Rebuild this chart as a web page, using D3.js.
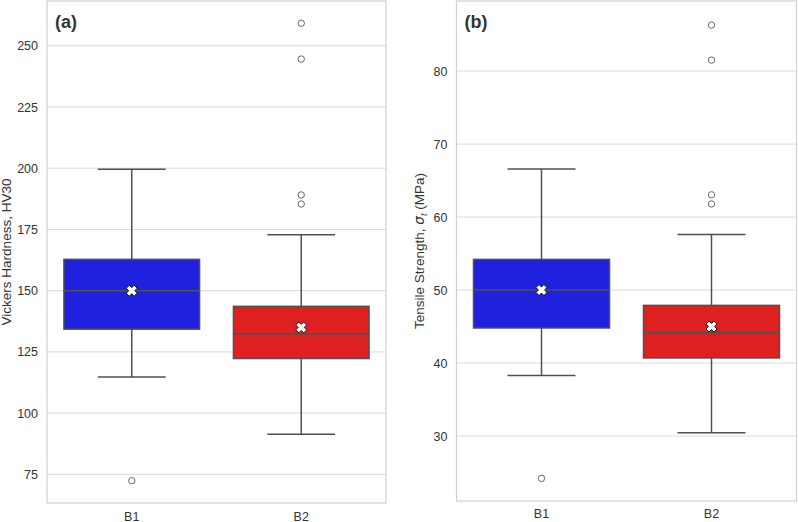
<!DOCTYPE html>
<html>
<head>
<meta charset="utf-8">
<script src="https://cdn.jsdelivr.net/npm/d3@7"></script>
<style>
  body { margin: 0; background: #fff; }
  text { font-family: "Liberation Sans", Arial, sans-serif; fill: #333; }
</style>
</head>
<body>
<div id="chart"></div>
<script>
// categories and colours
const groups = ['B1', 'B2'];
const boxColors = ['#2020df', '#df2020'];

// (a) Vickers hardness - box stats
const hvLowWhisker = [114.8, 91.4];
const hvQ1 = [134.3, 122.3];
const hvMedian = [150.0, 132.3];
const hvQ3 = [162.8, 143.6];
const hvHighWhisker = [199.6, 172.8];
const hvMean = [150.0, 135.0];
const hvOutliers = [[72.4], [259.2, 244.6, 189.1, 185.4]];
const hvTicks = [75, 100, 125, 150, 175, 200, 225, 250];

// (b) tensile strength
const tsLowWhisker = [38.3, 30.45];
const tsQ1 = [44.8, 40.7];
const tsMedian = [50.0, 44.15];
const tsQ3 = [54.2, 47.9];
const tsHighWhisker = [66.6, 57.6];
const tsMean = [50.0, 45.0];
const tsOutliers = [[24.2], [86.3, 81.5, 63.05, 61.8]];
const tsTicks = [30, 40, 50, 60, 70, 80];

const W = 798, H = 522;

const svg = d3
  .select('#chart')
  .append('svg')
  .attr('width', W)
  .attr('height', H);

// filled "X" marker like matplotlib's 'X'
const xMarker = (s) => {
  const a = s / 2, b = s / 3.6;
  const pts = [
    [-a, -a + b], [-a + b, -a], [0, -b], [a - b, -a], [a, -a + b], [b, 0],
    [a, a - b], [a - b, a], [0, b], [-a + b, a], [-a, a - b], [-b, 0],
  ];
  return 'M' + pts.map((p) => p.join(',')).join('L') + 'Z';
};

const drawPanel = (cfg) => {
  const g = svg.append('g');
  const x = d3.scaleBand().domain(groups).range([cfg.left, cfg.right]);
  const y = d3.scaleLinear().domain(cfg.domain).range([cfg.bottom, cfg.top]);
  const bw = x.bandwidth() * 0.8;

  // grid
  g.append('g')
    .selectAll('line')
    .data(cfg.ticks)
    .join('line')
    .attr('x1', cfg.left)
    .attr('x2', cfg.right)
    .attr('y1', (d) => y(d))
    .attr('y2', (d) => y(d))
    .attr('stroke', '#dadada')
    .attr('stroke-width', 1);

  // y axis labels
  const yAxis = d3.axisLeft(y).tickValues(cfg.ticks).tickSize(0).tickPadding(9);
  g.append('g')
    .attr('transform', `translate(${cfg.left},0)`)
    .call(yAxis)
    .call((a) => a.select('.domain').remove())
    .selectAll('text')
    .attr('font-size', 12.5)
    .attr('fill', '#333');

  // x axis labels (baseline placed directly)
  const xAxis = d3.axisBottom(x).tickSize(0);
  g.append('g')
    .attr('transform', `translate(0,${cfg.bottom})`)
    .call(xAxis)
    .call((a) => a.select('.domain').remove())
    .selectAll('text')
    .attr('y', cfg.xBase)
    .attr('dy', 0)
    .attr('font-size', 12.5)
    .attr('fill', '#333');

  const edge = '#505050';
  const boxes = g
    .selectAll('.box')
    .data(groups)
    .join('g')
    .attr('class', 'box');

  // whiskers
  boxes
    .append('line')
    .attr('x1', (d) => x(d) + x.bandwidth() / 2)
    .attr('x2', (d) => x(d) + x.bandwidth() / 2)
    .attr('y1', (d, i) => y(cfg.lo[i]))
    .attr('y2', (d, i) => y(cfg.q1[i]))
    .attr('stroke', edge)
    .attr('stroke-width', 1.5);
  boxes
    .append('line')
    .attr('x1', (d) => x(d) + x.bandwidth() / 2)
    .attr('x2', (d) => x(d) + x.bandwidth() / 2)
    .attr('y1', (d, i) => y(cfg.q3[i]))
    .attr('y2', (d, i) => y(cfg.hi[i]))
    .attr('stroke', edge)
    .attr('stroke-width', 1.5);
  [cfg.lo, cfg.hi].forEach((arr) => {
    boxes
      .append('line')
      .attr('x1', (d) => x(d) + x.bandwidth() / 2 - bw / 4)
      .attr('x2', (d) => x(d) + x.bandwidth() / 2 + bw / 4)
      .attr('y1', (d, i) => y(arr[i]))
      .attr('y2', (d, i) => y(arr[i]))
      .attr('stroke', edge)
      .attr('stroke-width', 1.5);
  });

  // boxes
  boxes
    .append('rect')
    .attr('x', (d) => x(d) + (x.bandwidth() - bw) / 2)
    .attr('width', bw)
    .attr('y', (d, i) => y(cfg.q3[i]))
    .attr('height', (d, i) => y(cfg.q1[i]) - y(cfg.q3[i]))
    .attr('fill', (d, i) => boxColors[i])
    .attr('stroke', edge)
    .attr('stroke-width', 1.5);

  // medians
  boxes
    .append('line')
    .attr('x1', (d) => x(d) + (x.bandwidth() - bw) / 2)
    .attr('x2', (d) => x(d) + (x.bandwidth() + bw) / 2)
    .attr('y1', (d, i) => y(cfg.med[i]))
    .attr('y2', (d, i) => y(cfg.med[i]))
    .attr('stroke', edge)
    .attr('stroke-width', 1.5);

  // outliers
  boxes
    .selectAll('circle')
    .data((d, i) => cfg.out[i].map((v) => ({ g: d, v })))
    .join('circle')
    .attr('cx', (d) => x(d.g) + x.bandwidth() / 2)
    .attr('cy', (d) => y(d.v))
    .attr('r', 3.2)
    .attr('fill', 'none')
    .attr('stroke', '#555')
    .attr('stroke-width', 0.9);

  // means
  boxes
    .append('path')
    .attr('d', xMarker(11))
    .attr('transform', (d, i) => `translate(${x(d) + x.bandwidth() / 2},${y(cfg.mean[i])})`)
    .attr('fill', '#fff')
    .attr('stroke', '#000')
    .attr('stroke-width', 0.9);

  // frame
  g.append('rect')
    .attr('x', cfg.left)
    .attr('y', cfg.top)
    .attr('width', cfg.right - cfg.left)
    .attr('height', cfg.bottom - cfg.top)
    .attr('fill', 'none')
    .attr('stroke', '#d0d0d0')
    .attr('stroke-width', 1.2);

  // panel tag
  g.append('text')
    .attr('x', cfg.left + 8)
    .attr('y', 28)
    .attr('font-size', 18)
    .attr('font-weight', 'bold')
    .attr('fill', '#000')
    .text(cfg.tag);

  // y title
  const t = g
    .append('text')
    .attr('transform', `translate(${cfg.titleX},${(cfg.top + cfg.bottom) / 2}) rotate(-90)`)
    .attr('text-anchor', 'middle')
    .attr('font-size', 13.5)
    .attr('fill', '#333');
  cfg.title(t);
};

drawPanel({
  left: 47, right: 386, top: 1, bottom: 503,
  domain: [63.3, 268.3],
  ticks: hvTicks,
  lo: hvLowWhisker, q1: hvQ1, med: hvMedian, q3: hvQ3, hi: hvHighWhisker,
  mean: hvMean, out: hvOutliers,
  tag: '(a)', titleX: 11, xBase: 17.5,
  title: (t) => t.text('Vickers Hardness, HV30'),
});

drawPanel({
  left: 456.5, right: 796.5, top: 1, bottom: 501,
  domain: [21.1, 89.6],
  ticks: tsTicks,
  lo: tsLowWhisker, q1: tsQ1, med: tsMedian, q3: tsQ3, hi: tsHighWhisker,
  mean: tsMean, out: tsOutliers,
  tag: '(b)', titleX: 424, xBase: 17,
  title: (t) => {
    t.append('tspan').text('Tensile Strength, ');
    t.append('tspan').attr('font-style', 'italic').attr('font-family', 'DejaVu Sans').text('σ');
    t.append('tspan').attr('font-style', 'italic').attr('font-size', 9).attr('dy', 3).text('t');
    t.append('tspan').attr('dy', -3).text(' (MPa)');
  },
});
</script>
</body>
</html>
